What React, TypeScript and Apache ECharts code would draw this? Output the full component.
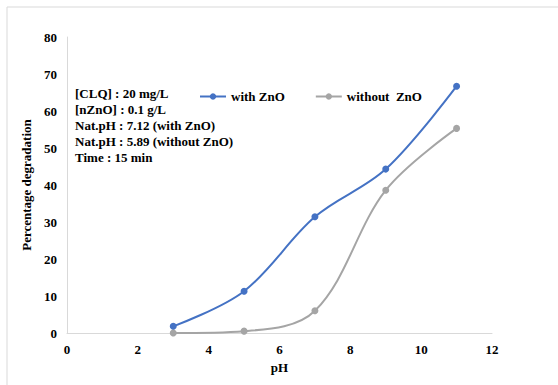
import React, { useEffect, useRef } from "react";
import * as echarts from "echarts";

const phValues = [3, 5, 7, 9, 11];
const withZnO = [1.8, 11.3, 31.4, 44.3, 66.7];
const withoutZnO = [0, 0.5, 6.0, 38.6, 55.3];
const seriesNames = ["with ZnO", "without  ZnO"];
const noteLines = [
  "[CLQ] : 20 mg/L",
  "[nZnO] : 0.1 g/L",
  "Nat.pH : 7.12 (with ZnO)",
  "Nat.pH : 5.89 (without ZnO)",
  "Time : 15 min",
];

const FONT = "Liberation Serif, serif";

export default function App() {
  const ref = useRef<HTMLDivElement>(null);
  useEffect(() => {
    if (!ref.current) return;
    const chart = echarts.init(ref.current, null, { renderer: "svg" });
    chart.setOption({
      animation: false,
      backgroundColor: "#fff",
      textStyle: { fontFamily: FONT },
      grid: { left: 67, right: 66, top: 37, bottom: 52 },
      legend: {
        left: 194,
        top: 85,
        itemWidth: 26,
        itemHeight: 8,
        itemGap: 30,
        textStyle: { fontFamily: FONT, fontWeight: "bold", fontSize: 13, color: "#000" },
        data: seriesNames,
      },
      xAxis: {
        type: "value",
        min: 0,
        max: 12,
        interval: 2,
        name: "pH",
        nameLocation: "middle",
        nameGap: 28,
        nameTextStyle: { fontFamily: FONT, fontWeight: "bold", fontSize: 13, color: "#000" },
        axisLine: { show: true, lineStyle: { color: "#D9D9D9", width: 1 } },
        axisTick: { show: false },
        splitLine: { show: false },
        axisLabel: { fontFamily: FONT, fontWeight: "bold", fontSize: 13, color: "#000", margin: 10 },
      },
      yAxis: {
        type: "value",
        min: 0,
        max: 80,
        interval: 10,
        name: "Percentage degradation",
        nameLocation: "middle",
        nameGap: 30,
        nameTextStyle: { fontFamily: FONT, fontWeight: "bold", fontSize: 13, color: "#000" },
        axisLine: { show: true, lineStyle: { color: "#D9D9D9", width: 1 } },
        axisTick: { show: false },
        splitLine: { show: false },
        axisLabel: { fontFamily: FONT, fontWeight: "bold", fontSize: 13, color: "#000", margin: 10 },
      },
      series: [
        {
          name: seriesNames[0],
          type: "line",
          smooth: 0.35,
          data: phValues.map((x, i) => [x, withZnO[i]]),
          symbol: "circle",
          symbolSize: 7,
          lineStyle: { color: "#4472C4", width: 2 },
          itemStyle: { color: "#4472C4" },
        },
        {
          name: seriesNames[1],
          type: "line",
          smooth: 0.35,
          data: phValues.map((x, i) => [x, withoutZnO[i]]),
          symbol: "circle",
          symbolSize: 7,
          lineStyle: { color: "#A5A5A5", width: 2 },
          itemStyle: { color: "#A5A5A5" },
        },
      ],
      graphic: [
        {
          type: "rect",
          shape: { x: 7, y: 7, width: 600, height: 400 },
          style: { fill: "none", stroke: "#D9D9D9", lineWidth: 1 },
          silent: true,
        },
        ...noteLines.map((t, i) => ({
          type: "text",
          left: 75,
          top: 87 + i * 16,
          style: {
            text: t,
            fontFamily: FONT,
            fontWeight: "bold",
            fontSize: 13,
            fill: "#000",
          },
        })),
      ],
    });
    return () => chart.dispose();
  }, []);
  return <div ref={ref} style={{ width: 558, height: 385, position: "absolute", left: 0, top: 0 }} />;
}
